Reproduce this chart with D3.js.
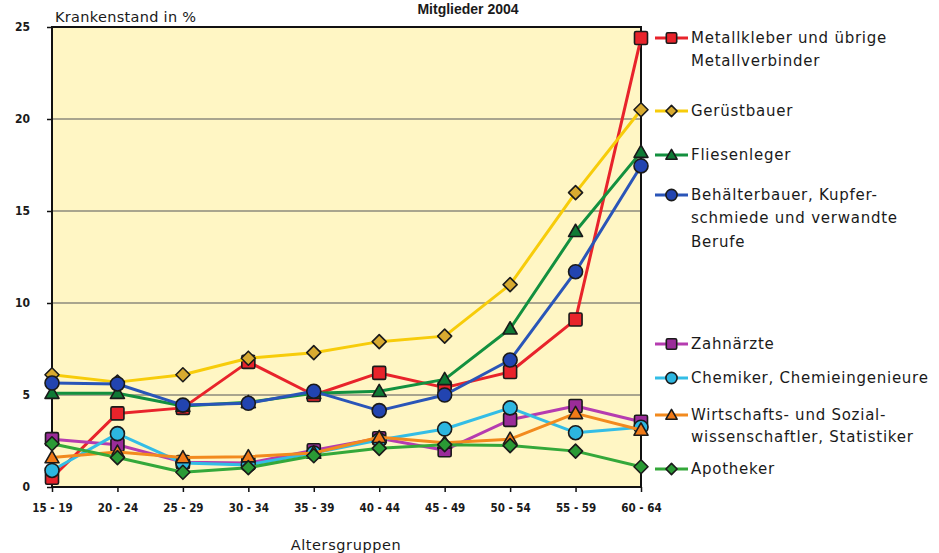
<!DOCTYPE html>
<html>
<head>
<meta charset="utf-8">
<script src="https://cdn.jsdelivr.net/npm/d3@7"></script>
<style>
  html, body { margin: 0; padding: 0; background: #ffffff; }
  svg { display: block; }
  text { font-family: "DejaVu Sans", sans-serif; fill: #1a1a1a; }
</style>
</head>
<body>
<svg id="chart" width="939" height="553"></svg>
<script>
// Age groups (x categories)
const ageGroups = ["15 - 19", "20 - 24", "25 - 29", "30 - 34", "35 - 39",
                   "40 - 44", "45 - 49", "50 - 54", "55 - 59", "60 - 64"];

// Sick-leave rate in % per occupational group
const metallkleber   = [0.5, 4.0, 4.3, 6.8, 5.0, 6.2, 5.4, 6.25, 9.1, 24.4];
const geruestbauer   = [6.1, 5.7, 6.1, 7.0, 7.3, 7.9, 8.2, 11.0, 16.0, 20.5];
const fliesenleger   = [5.1, 5.1, 4.4, 4.6, 5.1, 5.2, 5.85, 8.6, 13.9, 18.2];
const behaelterbauer = [5.65, 5.6, 4.45, 4.55, 5.2, 4.15, 5.0, 6.9, 11.7, 17.45];
const zahnaerzte     = [2.6, 2.3, 1.35, 1.3, 2.0, 2.65, 2.0, 3.65, 4.4, 3.55];
const chemiker       = [0.9, 2.9, 1.3, 1.2, 1.85, 2.55, 3.15, 4.3, 2.95, 3.25];
const wirtschaft     = [1.6, 1.9, 1.6, 1.65, 1.85, 2.7, 2.4, 2.6, 4.0, 3.1];
const apotheker      = [2.35, 1.6, 0.8, 1.05, 1.7, 2.1, 2.3, 2.25, 1.95, 1.1];

const yTicks = [0, 5, 10, 15, 20, 25];

const seriesNames = [
  ["Metallkleber und übrige", "Metallverbinder"],
  ["Gerüstbauer"],
  ["Fliesenleger"],
  ["Behälterbauer, Kupfer-", "schmiede und verwandte", "Berufe"],
  ["Zahnärzte"],
  ["Chemiker, Chemieingenieure"],
  ["Wirtschafts- und Sozial-", "wissenschaftler, Statistiker"],
  ["Apotheker"]
];
const seriesValues = [metallkleber, geruestbauer, fliesenleger, behaelterbauer,
                      zahnaerzte, chemiker, wirtschaft, apotheker];
const lineColors   = ["#e8232b", "#f7cc0a", "#13903f", "#2a55b8",
                      "#b53cb0", "#33bde6", "#f28a1e", "#34a83a"];
const markerFills  = ["#e8232b", "#d8aa30", "#0f7a35", "#2244b0",
                      "#9a2c99", "#2cb6e0", "#f07a18", "#2a9a35"];
const markerShapes = ["square", "diamond", "triangle", "circle",
                      "square", "circle", "triangle", "diamond"];
const legendY = [[38, 61], [111], [155], [195, 218, 242], [344], [378], [415, 437], [469]];

const svg = d3.select("#chart");
const plot = { left: 52, right: 641, top: 27, bottom: 487 };

const x = d3.scalePoint().domain(ageGroups).range([plot.left, plot.right]);
const y = d3.scaleLinear().domain([0, 25]).range([plot.bottom, plot.top]);

// Title above the plot
svg.append("text")
  .attr("x", 468).attr("y", 14)
  .attr("text-anchor", "middle")
  .style("font-family", "Liberation Sans, Arial, sans-serif")
  .style("font-weight", "bold").style("font-size", "14px")
  .text("Mitglieder 2004");

// Plot background
svg.append("rect")
  .attr("x", plot.left).attr("y", plot.top)
  .attr("width", plot.right - plot.left).attr("height", plot.bottom - plot.top)
  .attr("fill", "#fff6c4");

// Horizontal gridlines
svg.append("g").selectAll("line")
  .data(yTicks.filter(t => t > 0 && t < 25))
  .join("line")
  .attr("x1", plot.left).attr("x2", plot.right)
  .attr("y1", d => y(d)).attr("y2", d => y(d))
  .attr("stroke", "#8c8a7c").attr("stroke-width", 1.6);

// Plot frame
svg.append("rect")
  .attr("x", plot.left).attr("y", plot.top)
  .attr("width", plot.right - plot.left).attr("height", plot.bottom - plot.top)
  .attr("fill", "none").attr("stroke", "#111").attr("stroke-width", 2);

// Y axis
const yAxis = svg.append("g")
  .attr("transform", `translate(${plot.left},0)`)
  .call(d3.axisLeft(y).tickValues(yTicks).tickSize(5).tickPadding(17).tickFormat(d3.format("d")));
yAxis.select(".domain").remove();
yAxis.selectAll(".tick line").attr("stroke", "#111").attr("stroke-width", 1.5);
yAxis.selectAll(".tick text")
  .style("font-family", "DejaVu Sans Condensed, DejaVu Sans, sans-serif")
  .style("font-size", "12px").style("font-weight", "bold").attr("fill", "#222");

// X axis
const xAxis = svg.append("g")
  .attr("transform", `translate(0,${plot.bottom})`)
  .call(d3.axisBottom(x).tickSize(5).tickPadding(12));
xAxis.select(".domain").remove();
xAxis.selectAll(".tick line").attr("stroke", "#111").attr("stroke-width", 1.5);
xAxis.selectAll(".tick text")
  .style("font-family", "DejaVu Sans Condensed, DejaVu Sans, sans-serif")
  .style("font-size", "11.5px").style("font-weight", "bold").attr("fill", "#222");

// Axis titles
svg.append("text")
  .attr("x", 55).attr("y", 22)
  .style("font-size", "14.5px").style("letter-spacing", "0.3px")
  .text("Krankenstand in %");
svg.append("text")
  .attr("x", 346).attr("y", 550)
  .attr("text-anchor", "middle")
  .style("font-size", "14.5px").style("letter-spacing", "0.6px")
  .text("Altersgruppen");

// Marker drawing helper
function drawMarker(g, shape, cx, cy, fill, scale) {
  const s = scale || 1;
  let el;
  if (shape === "square") {
    const h = 6.5 * s;
    el = g.append("rect").attr("x", cx - h).attr("y", cy - h)
      .attr("width", 2 * h).attr("height", 2 * h).attr("rx", 1.5);
  } else if (shape === "circle") {
    el = g.append("circle").attr("cx", cx).attr("cy", cy).attr("r", 7 * s);
  } else if (shape === "diamond") {
    const h = 7 * s;
    el = g.append("path")
      .attr("d", `M${cx},${cy - h}L${cx + h},${cy}L${cx},${cy + h}L${cx - h},${cy}Z`);
  } else {
    const h = 7 * s;
    el = g.append("path")
      .attr("d", `M${cx},${cy - h}L${cx + h},${cy + h * 0.75}L${cx - h},${cy + h * 0.75}Z`);
  }
  el.attr("fill", fill).attr("stroke", "#1a1a1a").attr("stroke-width", 1.6)
    .attr("stroke-linejoin", "round");
}

const line = d3.line()
  .x((d, i) => x(ageGroups[i]))
  .y(d => y(d));

// Series lines and markers
seriesValues.forEach((vals, k) => {
  const g = svg.append("g");
  g.append("path")
    .datum(vals)
    .attr("d", line)
    .attr("fill", "none")
    .attr("stroke", lineColors[k])
    .attr("stroke-width", 3)
    .attr("stroke-linejoin", "round");
  vals.forEach((v, i) => {
    drawMarker(g, markerShapes[k], x(ageGroups[i]), y(v), markerFills[k], 1);
  });
});

// Legend
const legend = svg.append("g");
seriesNames.forEach((lines, k) => {
  const ly = legendY[k][0];
  legend.append("line")
    .attr("x1", 655).attr("x2", 688)
    .attr("y1", ly).attr("y2", ly)
    .attr("stroke", lineColors[k]).attr("stroke-width", 3);
  drawMarker(legend, markerShapes[k], 671.5, ly, markerFills[k], 0.8);
  lines.forEach((t, j) => {
    legend.append("text")
      .attr("x", 691).attr("y", legendY[k][j] + 5)
      .style("font-size", "15px").style("letter-spacing", "0.75px")
      .text(t);
  });
});
</script>
</body>
</html>
